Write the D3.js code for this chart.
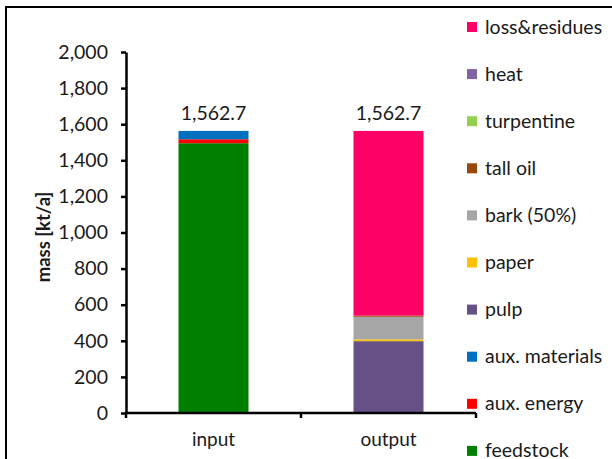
<!DOCTYPE html>
<html><head><meta charset="utf-8">
<script src="https://cdn.jsdelivr.net/npm/d3@7/dist/d3.min.js"></script>
<style>
body{margin:0;background:#fff;}
text{font-family:Lato,"Open Sans",sans-serif;fill:#1a1a1a;}
</style></head>
<body>
<svg id="c" width="612" height="459"></svg>
<script>
const categories = ["input","output"];
const seriesNames = ["feedstock","aux. energy","aux. materials","pulp","paper","bark (50%)","tall oil","turpentine","heat","loss&residues"];
const seriesColors = ["#008000","#FF0000","#0070C0","#675086","#FFC000","#A6A6A6","#984807","#92D050","#8064A2","#FF0066"];
const inputValues  = [1494.7, 22.0, 46.0, 0, 0, 0, 0, 0, 0, 0];
const outputValues = [0, 0, 0, 398.0, 10.0, 125.0, 5.0, 1.0, 0.0, 1023.7];
const totals = [1562.7, 1562.7];
const yTicks = [0,200,400,600,800,1000,1200,1400,1600,1800,2000];

const svg = d3.select("#c");
const x0 = 126, x1 = 476, yTop = 52, yBot = 413;

// frame
svg.append("path").attr("d","M6,459 L6,7 L612,7").attr("fill","none").attr("stroke","#000").attr("stroke-width",2);

const x = d3.scaleBand().domain(categories).range([x0,x1]).paddingInner(0.6).paddingOuter(0.3);
const y = d3.scaleLinear().domain([0,2000]).range([yBot,yTop]);

const rows = categories.map((c,i)=>{
  const o = {cat:c};
  const vals = i===0?inputValues:outputValues;
  seriesNames.forEach((s,j)=>o[s]=vals[j]);
  return o;
});
const stack = d3.stack().keys(seriesNames)(rows);

svg.append("g").selectAll("g").data(stack).join("g")
  .attr("fill",(d,i)=>seriesColors[i])
  .selectAll("rect").data(d=>d).join("rect")
  .attr("x",d=>x(d.data.cat))
  .attr("width",x.bandwidth())
  .attr("y",d=>y(d[1]))
  .attr("height",d=>Math.max(0,y(d[0])-y(d[1])));

// totals
svg.append("g").selectAll("text").data(categories).join("text")
  .attr("x",d=>x(d)+x.bandwidth()/2)
  .attr("y",(d,i)=>y(totals[i])-11)
  .attr("text-anchor","middle").attr("font-size",19.5)
  .text((d,i)=>d3.format(",.1f")(totals[i]));

// y axis
const ya = svg.append("g").attr("transform",`translate(${x0},0)`)
  .call(d3.axisLeft(y).tickValues(yTicks).tickFormat(d3.format(",")).tickSize(5).tickSizeOuter(0).tickPadding(13));
ya.select(".domain").attr("stroke-width",2.5);
ya.selectAll(".tick line").attr("stroke-width",2.5);
ya.selectAll(".tick text").attr("font-size",19.5).attr("font-family","Lato,'Open Sans',sans-serif").attr("fill","#1a1a1a");

// x axis
const xa = svg.append("g").attr("transform",`translate(0,${yBot})`);
xa.append("line").attr("x1",x0-1).attr("x2",x1).attr("y1",0).attr("y2",0).attr("stroke","#000").attr("stroke-width",2.5);
const xt = [x0, (x0+x1)/2, x1];
xa.selectAll("line.t").data(xt).join("line").attr("class","t")
  .attr("x1",d=>d).attr("x2",d=>d).attr("y1",0).attr("y2",5).attr("stroke","#000").attr("stroke-width",2.5);
xa.selectAll("text").data(categories).join("text")
  .attr("x",d=>x(d)+x.bandwidth()/2).attr("y",33)
  .attr("text-anchor","middle").attr("font-size",19).text(d=>d);

// y label
svg.append("text").attr("transform","translate(50,237) rotate(-90)")
  .attr("text-anchor","middle").attr("font-size",18.5).attr("font-weight","bold").text("mass [kt/a]");

// legend (top to bottom reverse order)
const legendItems = seriesNames.map((s,i)=>({s,c:seriesColors[i]})).reverse();
const lg = svg.append("g").selectAll("g").data(legendItems).join("g")
  .attr("transform",(d,i)=>`translate(467,${27+i*47.1})`);
lg.append("rect").attr("x",0).attr("y",-5).attr("width",10).attr("height",10).attr("fill",d=>d.c);
lg.append("text").attr("x",18).attr("y",6.5).attr("font-size",19.5).text(d=>d.s);
</script>
</body></html>
